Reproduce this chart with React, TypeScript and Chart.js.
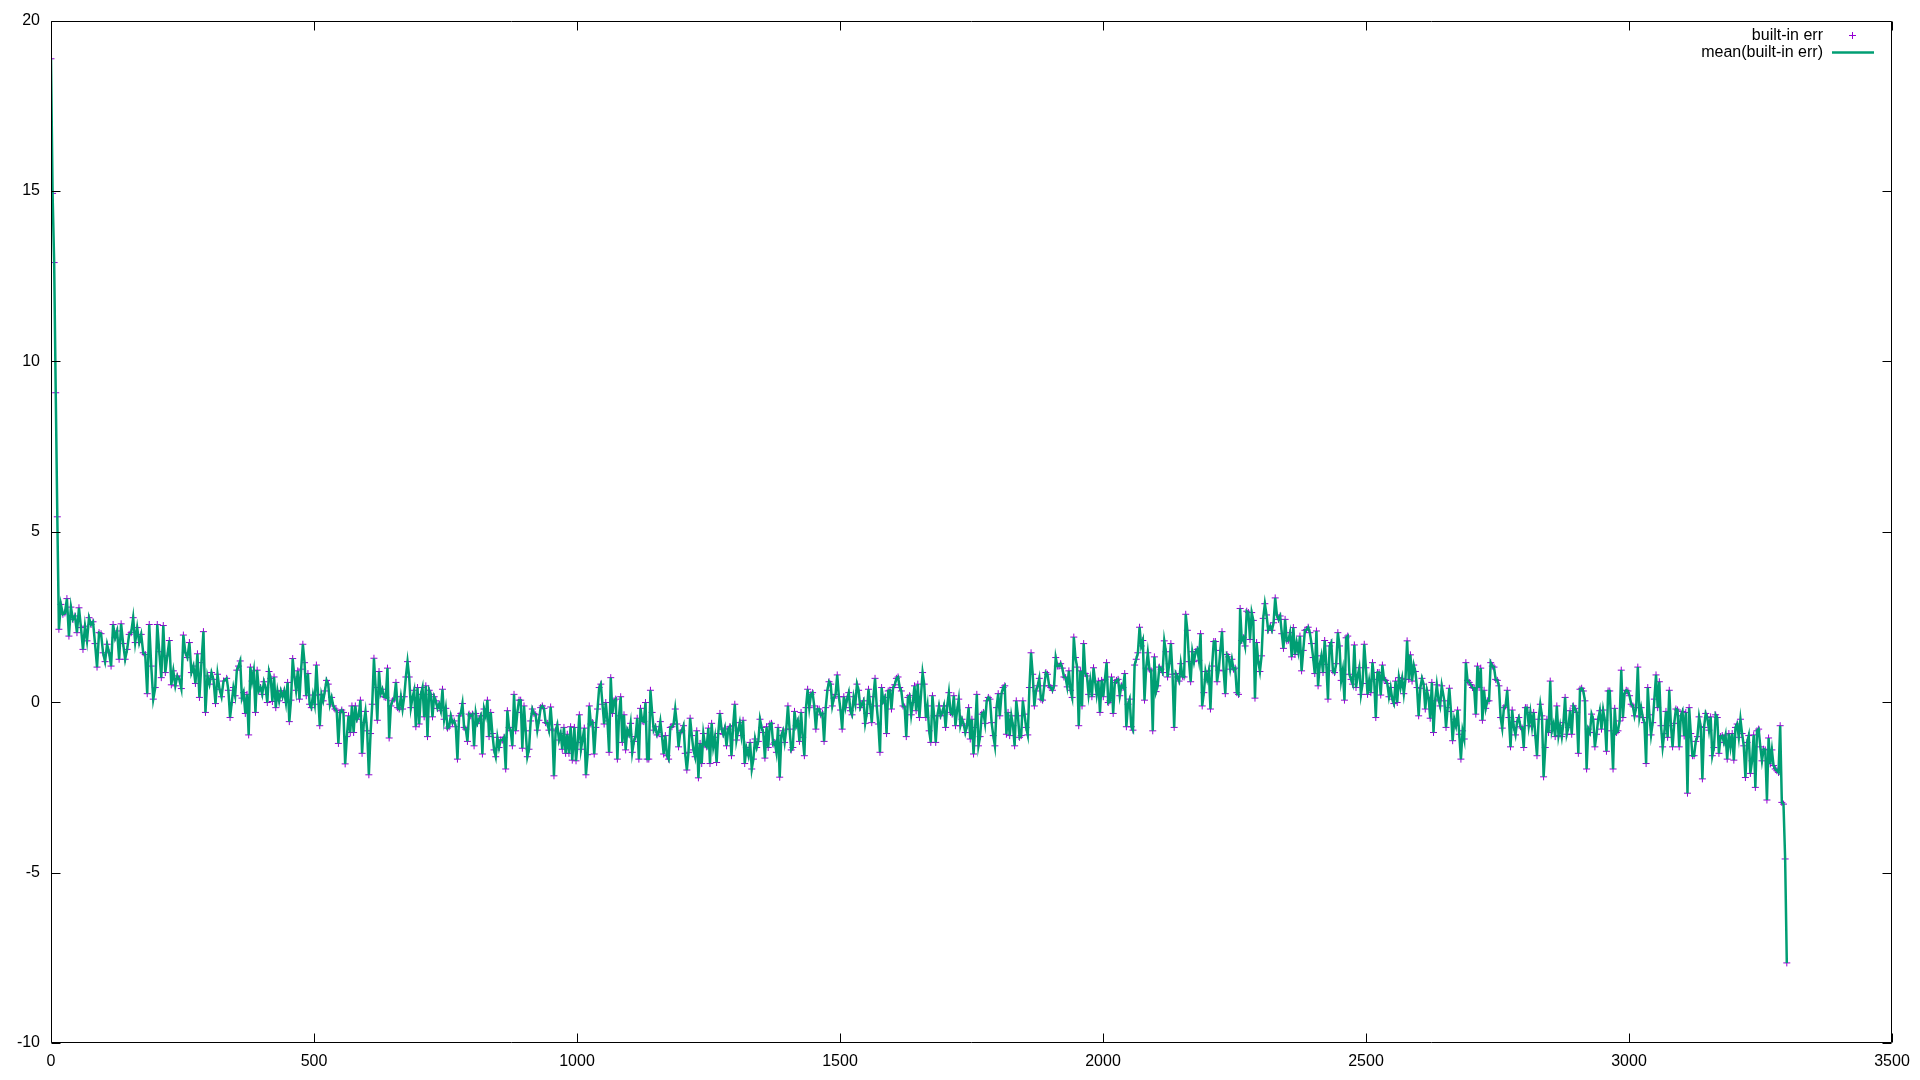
import React, { useEffect, useRef } from "react";
import { Chart, registerables } from "chart.js";

Chart.register(...registerables);

// ---- data (x ranges of each run of samples, and the sampled values) ----
const segmentStartX = [0, 15, 334, 662, 995, 1326, 1657, 1988, 2318, 2649, 2979];
const segmentEndX = [12, 328, 659, 991, 1322, 1651, 1982, 2314, 2644, 2976, 3300];

const errStart = [18.88, 14.93, 12.9, 9.08, 5.44];
const err0 = [2.14, 2.87, 2.58, 2.62, 3.04, 1.94, 2.79, 2.43, 2.53, 2.04, 2.77, 2.19, 1.55, 2.23, 1.8, 2.48, 2.28, 2.36, 1.72, 1.03, 2.04, 2.01, 1.45, 1.19, 1.7, 1.45, 1.06, 2.28, 1.89, 2.09, 1.26, 2.3, 1.72, 1.26, 1.55, 1.99, 2.04, 2.48, 1.75, 2.19, 1.75, 1.99, 1.45, 1.4, 0.25, 2.28, 1.06, 0.09, 0.43, 2.28, 1.48, 0.72, 2.25, 0.87, 1.36, 1.81, 0.51, 0.92, 0.48, 0.77, 0.67, 0.4, 1.97, 1.45, 1.31, 1.75, 0.87, 1.06, 0.55, 1.42, 0.14, 1.16, 2.07, -0.3, 0.77, 0.53, 0.87, 0.67, -0.04, 0.82, 0.38, 0.16, 0.62];
const err1 = [0.7, 0.35, -0.45, -0.01, 0.43, 0.19, 0.94, 1.06, 1.21, 0.12, 0.28, -0.33, 0.23, -0.96, 1.03, 0.62, 0.92, -0.3, 0.94, 0.33, 0.43, 0.23, 0.6, 0.43, -0.01, 0.9, 0.7, 0.02, 0.74, -0.16, 0.33, 0.04, 0.33, 0.16, 0.33, -0.01, 0.58, -0.57, 0.06, 1.28, 0.74, 0.35, 0.92, 0.09, 0.97, 1.7, 1.16, 0.19, 0.84, -0.06, -0.16, 0.21, -0.06, 1.09, 0.21, -0.69, 0.23, 0.04, 0.33, 0.64, 0.53, -0.06, 0.14, -0.11, -0.2, -0.25, -1.21, -0.3, -0.23, -0.3, -1.81, -1.01, -0.4, -0.89, -0.11, -0.89, -0.11, -0.5, -0.4, 0.06, -1.5, -0.6, -0.27, -0.84, -2.13, -0.92, -0.06, 1.29, 0.43, -0.53, 0.9, 0.25, 0.38, 0.16, 0.14, 1.0, -1.05, -0.11, 0.04, 0.09, 0.58, -0.16];
const err2 = [-0.2, 0.16, -0.2, 0.16, 0.74, 1.19, 0.74, -0.16, 0.14, 0.35, -0.72, 0.43, -0.64, 0.23, 0.43, -0.43, 0.48, -1.01, 0.35, 0.23, -0.43, 0.16, 0.04, -0.18, -0.06, -0.25, 0.38, -0.5, -0.18, -0.76, -0.72, -0.4, -0.6, -0.55, -0.72, -1.67, -0.4, -0.33, -0.04, -0.74, -0.79, -1.15, -0.35, -0.4, -0.35, -1.28, -0.33, -0.62, -0.5, -0.4, -1.52, -0.2, -0.4, 0.06, -1.01, -0.3, -0.92, -1.4, -1.6, -1.03, -1.33, -1.11, -1.11, -1.03, -1.96, -0.25, -0.74, -0.84, -1.28, 0.23, -0.84, -0.3, 0.06, 0.06, -1.35, -0.11, -0.84, -1.6, -1.38, -0.55, -0.2, -0.33, -0.37, -0.82, -0.53, -0.16, -0.11, -0.18, -0.6, -0.62, -0.82, -0.14, -0.79, -2.16, -0.84, -0.66, -1.11, -0.92, -1.38, -0.74, -1.5, -0.94, -1.5, -0.72, -1.7];
const err3 = [-0.74, -1.72, -1.18, -0.37, -1.38, -1.08, -0.76, -2.13, -1.54, -0.11, -0.64, -0.6, -1.52, -0.74, -0.2, 0.43, 0.53, -0.06, -0.64, -0.01, -0.55, -1.47, 0.72, -0.33, 0.04, 0.09, -1.67, -0.4, 0.16, -1.18, -0.37, -1.4, -0.82, -0.94, -0.62, -1.47, -1.15, -1.01, -0.47, -1.67, -0.18, -0.55, -0.57, -0.01, -1.67, -1.67, 0.35, -0.3, -0.82, -0.72, -0.96, -0.89, -0.57, -1.01, -1.52, -0.98, -1.57, -1.67, -0.74, -0.72, -0.64, -0.2, -0.64, -1.31, -0.89, -0.84, -0.69, -1.5, -1.99, -1.47, -0.47, -0.98, -1.4, -1.6, -0.84, -2.22, -1.21, -1.8, -0.92, -1.25, -1.31, -0.76, -1.8, -0.62, -1.31, -1.03, -1.77, -0.92, -0.33, -0.79, -0.94, -0.76, -1.28, -0.79, -0.72, -1.57, -0.69, -0.06, -1.11, -0.84, -0.6, -0.98, -0.53, -1.8, -1.33];
const err4 = [-1.57, -1.18, -1.96, -1.67, -1.08, -1.33, -1.15, -0.5, -0.74, -0.89, -1.64, -0.72, -1.33, -0.64, -0.62, -1.23, -1.18, -1.47, -0.74, -2.2, -0.98, -0.84, -1.18, -0.79, -0.11, -0.79, -1.4, -1.33, -0.27, -0.69, -0.55, -1.15, -0.3, -1.03, -1.57, -0.16, 0.38, -0.16, 0.23, 0.28, -0.11, -0.79, -0.2, -0.2, -0.37, -0.33, -1.15, -0.16, 0.35, 0.6, 0.53, -0.11, 0.12, 0.23, 0.8, 0.16, -0.23, -0.79, 0.16, -0.16, 0.09, 0.28, -0.25, -0.37, 0.16, -0.06, 0.53, 0.35, -0.16, -0.06, 0.04, -0.62, -0.33, 0.38, -0.06, -0.6, 0.16, 0.7, -0.11, -0.64, -1.47, 0.43, 0.04, 0.14, -0.92, 0.33, 0.35, -0.2, 0.43, 0.51, 0.7, 0.74, 0.43, 0.33, -0.11, -0.14, -1.01, 0.14, 0.19, -0.37, -0.01, 0.48, -0.25, 0.53, -0.45];
const err5 = [0.87, 0.53, -0.45, -0.11, -0.84, -1.18, 0.19, -0.4, -1.18, -0.4, -0.11, -0.4, -0.3, -0.11, -0.74, -0.11, 0.28, -0.3, -0.35, 0.19, -0.69, -0.23, 0.09, -0.69, -0.5, -0.64, -0.89, -0.69, -0.16, -1.08, -0.5, -1.52, -0.74, 0.23, -1.28, -1.01, -0.35, -0.3, -0.62, 0.04, 0.14, 0.09, -0.6, -0.98, -1.28, -0.16, 0.25, -0.4, 0.25, 0.43, 0.48, -0.94, -0.3, -0.98, -0.4, -0.69, -1.28, 0.04, -0.4, -1.03, -0.98, 0.04, -0.35, -0.74, -0.96, 0.43, 1.45, 0.82, -0.11, 0.33, 0.48, 0.7, 0.09, 0.06, 0.48, 0.87, 0.82, 0.48, 0.43, 0.35, 0.48, 1.31, 1.06, 1.06, 1.13, 1.0, 0.74, 0.72, 0.45, 0.92, 0.35, 0.14, 1.91, 1.31, 1.03, -0.69, 0.92, -0.11, 1.72, 0.84, 0.77, 0.23, 0.62, 0.16, 1.01];
const err6 = [0.23, 0.62, -0.3, 0.64, 0.16, 0.67, 1.16, -0.01, 0.04, 0.74, -0.33, 0.58, 0.64, 0.67, 0.19, 0.48, 0.43, 0.84, -0.72, -0.06, 0.09, -0.72, -0.82, 1.09, 1.26, 1.45, 2.2, 1.65, 1.81, 0.06, 1.0, 1.45, 0.97, 0.92, -0.84, 1.33, 0.31, 0.48, 1.03, 0.97, 0.87, 1.8, 1.48, 0.74, 1.13, 1.72, 0.82, -0.74, 0.84, 0.74, 0.62, 1.13, 0.76, 0.74, 2.58, 2.11, 1.19, 0.6, 1.48, 1.19, 1.48, 1.55, 1.23, 2.01, -0.11, 0.28, 0.9, 0.67, 0.92, -0.2, 1.06, 1.78, 1.78, 0.6, 0.94, 1.52, 2.07, 0.92, 0.25, 1.4, 1.33, 0.97, 1.26, 0.97, 1.0, 0.28, 0.23, 2.75, 1.81, 1.89, 1.65, 2.67, 2.63, 1.84, 2.63, 2.4, 0.12, 1.75, 1.19, 0.9, 1.36, 2.46, 2.89, 2.56, 2.11];
const err7 = [2.23, 2.11, 2.33, 3.06, 2.56, 2.43, 2.53, 2.01, 1.58, 2.43, 1.8, 1.82, 2.04, 1.33, 2.19, 1.4, 1.75, 1.48, 1.94, 0.92, 1.52, 2.11, 2.13, 2.2, 2.04, 1.72, 1.31, 0.84, 2.09, 0.48, 1.11, 1.36, 0.87, 1.81, 1.11, 0.09, 1.65, 1.75, 0.92, 0.87, 1.13, 2.04, 1.65, 0.64, 0.94, 0.06, 1.89, 1.94, 0.82, 0.67, 0.53, 1.68, 0.43, 0.77, 1.01, 0.23, 0.55, 1.7, 1.01, 0.23, 0.62, 0.28, 1.16, 0.67, -0.45, 0.87, 0.87, 0.21, 1.09, 0.67, 0.64, 0.55, 0.16, 0.43, 0.09, -0.04, 0.62, -0.01, 0.72, 0.43, 0.7, 0.25, 0.67, 1.8, 0.67, 1.39, 0.62, 1.09, 0.9, 0.43, -0.4, 0.41, 0.7, 0.53, -0.2, 0.35, 0.14, -0.47, 0.58, -0.89, 0.04, 0.51, 0.09, -0.11, 0.48];
const err8 = [0.04, -0.74, -0.16, 0.41, -0.27, -1.13, -0.5, -0.69, -0.23, -0.94, -1.67, -0.84, -1.08, 1.16, 0.64, 0.58, 0.51, 0.43, 0.41, -0.35, 1.06, 0.43, 1.0, -0.53, 0.35, -0.18, 0.04, 0.04, 1.16, 1.06, 1.03, 0.67, 0.64, 0.48, -0.45, -0.76, -0.16, -0.11, 0.35, -0.45, -1.31, -0.23, -0.74, -0.96, -0.57, -0.45, -0.72, -0.76, -1.33, -0.16, -0.16, -0.69, -0.3, -0.72, -0.3, -0.98, -1.57, -0.5, -0.06, -0.4, -2.19, -1.33, -0.5, -0.89, 0.62, -0.84, -0.64, -1.01, -0.11, -0.98, -0.69, -1.01, -0.6, 0.14, -0.94, -0.74, -0.25, -0.94, -0.11, -0.18, -0.3, -1.5, 0.38, 0.41, 0.33, 0.04, -1.96, -0.79, -0.89, -0.35, -0.5, -1.31, -0.94, -0.5, -0.25, -0.79, -0.23, -0.53, -1.44, 0.33, 0.33, -0.84, -1.96, -0.18, -0.89];
const err9 = [-0.84, -0.55, 0.94, -0.45, 0.25, 0.35, 0.33, 0.19, -0.06, -0.11, -0.4, -0.16, 1.03, -0.43, -0.16, -0.45, -0.6, -1.8, 0.43, -0.37, -0.96, -0.6, 0.09, 0.8, -0.16, 0.6, -0.69, -1.31, -0.92, -0.27, -1.03, 0.35, -0.69, -1.31, -0.62, -0.2, -0.23, -1.31, -0.4, -0.27, -0.99, -0.3, -2.67, -0.16, -0.92, -1.57, -1.57, -1.15, -1.01, -0.43, -0.72, -2.25, -0.74, -0.33, -0.45, -0.82, -0.43, -1.57, -1.33, -0.37, -0.45, -1.5, -1.01, -0.98, -1.18, -0.96, -1.67, -0.92, -1.31, -0.92, -1.7, -0.74, -0.64, -1.03, -0.5, -0.92, -1.28, -2.21, -1.18, -0.98, -2.09, -1.72, -0.96, -2.5, -0.84, -0.79, -1.31, -1.72, -1.38, -1.4, -2.87, -1.05, -1.81, -1.4, -1.86, -1.96, -2.01, -2.06, -0.69, -2.94, -2.99, -4.6, -7.65];

const segmentValues = [errStart, err0, err1, err2, err3, err4, err5, err6, err7, err8, err9];

const xTicks = { min: 0, max: 3500, step: 500 };
const yTicks = { min: -10, max: 20, step: 5 };

const seriesLabels = ["built-in err", "mean(built-in err)"];

const FONT_FAMILY = '"Liberation Sans", Arial, Helvetica, sans-serif';
const POINT_COLOR = "#9400D3";
const LINE_COLOR = "#009E73";

function buildPoints() {
  const pts: { x: number; y: number }[] = [];
  segmentValues.forEach((vals, k) => {
    const a = segmentStartX[k];
    const b = segmentEndX[k];
    const n = vals.length;
    vals.forEach((v, j) => {
      const x = n > 1 ? a + (j * (b - a)) / (n - 1) : a;
      pts.push({ x, y: v });
    });
  });
  return pts;
}

const framePlugin = {
  id: "gnuFrame",
  afterDraw(chart: any) {
    const { ctx, chartArea: ca, scales } = chart;
    const tl = 9;
    ctx.save();
    ctx.strokeStyle = "#000";
    ctx.lineWidth = 1;
    ctx.beginPath();
    const L = Math.round(ca.left) + 0.5;
    const R = Math.round(ca.right) - 0.5;
    const T = Math.round(ca.top) + 0.5;
    const B = Math.round(ca.bottom) - 0.5;
    ctx.rect(L, T, R - L, B - T);
    scales.x.ticks.forEach((t: any) => {
      const px = Math.round(scales.x.getPixelForValue(t.value)) + 0.5;
      ctx.moveTo(px, B);
      ctx.lineTo(px, B - tl);
      ctx.moveTo(px, T);
      ctx.lineTo(px, T + tl);
    });
    scales.y.ticks.forEach((t: any) => {
      const py = Math.round(scales.y.getPixelForValue(t.value)) + 0.5;
      ctx.moveTo(L, py);
      ctx.lineTo(L + tl, py);
      ctx.moveTo(R, py);
      ctx.lineTo(R - tl, py);
    });
    ctx.stroke();
    ctx.restore();
  },
};

const legendPlugin = {
  id: "gnuLegend",
  afterDraw(chart: any) {
    const { ctx, chartArea: ca } = chart;
    ctx.save();
    ctx.font = `16px ${FONT_FAMILY}`;
    ctx.fillStyle = "#000";
    ctx.textAlign = "right";
    ctx.textBaseline = "middle";
    const textRight = ca.right - 69;
    const y1 = ca.top + 14.5;
    const y2 = ca.top + 32;
    ctx.fillText(seriesLabels[0], textRight, y1);
    ctx.fillText(seriesLabels[1], textRight, y2);
    // point sample
    const cx = Math.round(ca.right - 40) + 0.5;
    const cy = Math.round(y1) + 0.5;
    ctx.strokeStyle = POINT_COLOR;
    ctx.lineWidth = 1;
    ctx.beginPath();
    ctx.moveTo(cx - 3.5, cy);
    ctx.lineTo(cx + 3.5, cy);
    ctx.moveTo(cx, cy - 3.5);
    ctx.lineTo(cx, cy + 3.5);
    ctx.stroke();
    // line sample
    ctx.strokeStyle = LINE_COLOR;
    ctx.lineWidth = 2.5;
    ctx.beginPath();
    ctx.moveTo(ca.right - 60, y2);
    ctx.lineTo(ca.right - 18, y2);
    ctx.stroke();
    ctx.restore();
  },
};

export default function App() {
  const ref = useRef<HTMLCanvasElement>(null);
  useEffect(() => {
    document.body.style.margin = "0";
    const pts = buildPoints();
    const chart = new Chart(ref.current as HTMLCanvasElement, {
      type: "line",
      data: {
        datasets: [
          {
            label: seriesLabels[1],
            data: pts,
            borderColor: LINE_COLOR,
            backgroundColor: LINE_COLOR,
            borderWidth: 2.5,
            pointRadius: 0,
            tension: 0,
            fill: false,
            order: 0,
          },
          {
            label: seriesLabels[0],
            data: pts,
            showLine: false,
            pointStyle: "cross",
            pointRadius: 3.5,
            pointBorderWidth: 1,
            borderColor: POINT_COLOR,
            backgroundColor: POINT_COLOR,
            order: 1,
          },
        ],
      },
      options: {
        responsive: false,
        animation: false,
        devicePixelRatio: 1,
        layout: { padding: { top: 18, right: 28, left: 0, bottom: 0 } },
        plugins: { legend: { display: false }, tooltip: { enabled: false } },
        scales: {
          x: {
            type: "linear",
            min: xTicks.min,
            max: xTicks.max,
            ticks: {
              stepSize: xTicks.step,
              color: "#000",
              font: { family: FONT_FAMILY, size: 16 },
              padding: 9,
              maxRotation: 0,
              autoSkip: false,
              callback: (v: any) => String(v),
            },
            grid: { display: false, drawTicks: false },
            border: { display: false },
            afterFit: (s: any) => {
              s.height = 37;
            },
          },
          y: {
            type: "linear",
            min: yTicks.min,
            max: yTicks.max,
            ticks: {
              stepSize: yTicks.step,
              color: "#000",
              font: { family: FONT_FAMILY, size: 16 },
              padding: 11,
              autoSkip: false,
              callback: (v: any) => String(v),
            },
            grid: { display: false, drawTicks: false },
            border: { display: false },
            afterFit: (s: any) => {
              s.width = 51;
            },
          },
        },
      },
      plugins: [framePlugin, legendPlugin],
    } as any);
    return () => chart.destroy();
  }, []);
  return (
    <div style={{ position: "fixed", left: 0, top: 0, width: 1920, height: 1080, background: "#fff" }}>
      <canvas ref={ref} width={1920} height={1080} style={{ display: "block" }} />
    </div>
  );
}
